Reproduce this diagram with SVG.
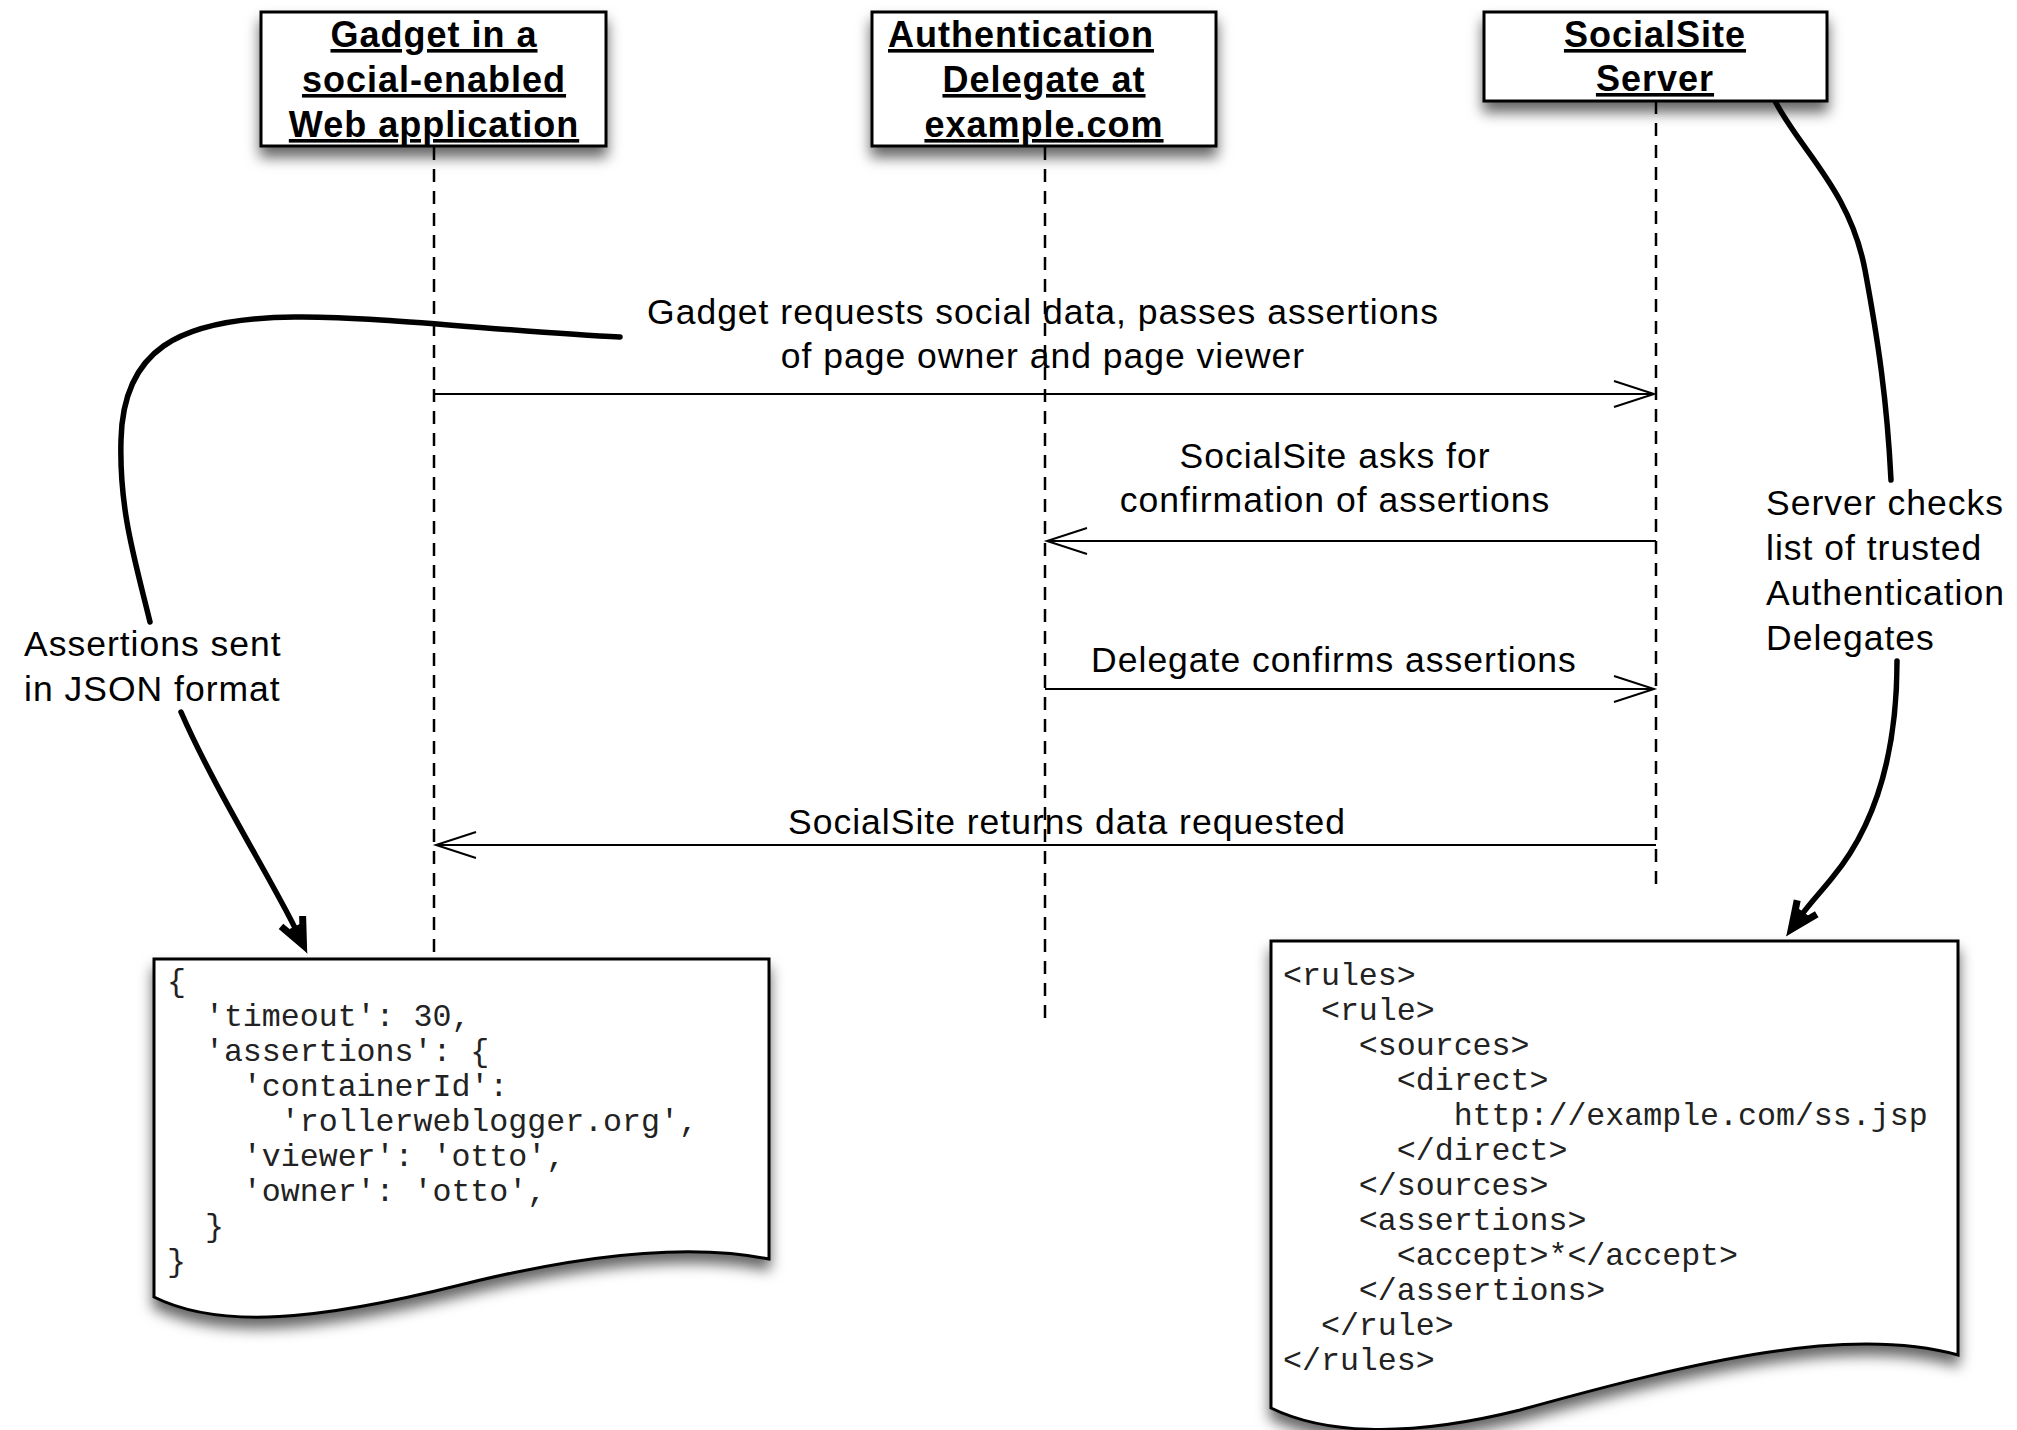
<svg xmlns="http://www.w3.org/2000/svg" width="2017" height="1430" viewBox="0 0 2017 1430">
<style>
.box{fill:#fff;stroke:#000;stroke-width:3;filter:url(#shadow)}
.doc{fill:#fff;stroke:#000;stroke-width:3;filter:url(#shadow)}
.head{font-family:"Liberation Sans",Arial,sans-serif;font-weight:bold;font-size:36px;letter-spacing:1px;text-anchor:middle;text-decoration:underline;fill:#000}
.lbl{font-family:"Liberation Sans",Arial,sans-serif;font-size:35.5px;letter-spacing:1px;fill:#000}
.mid{text-anchor:middle}
.code{font-family:"Liberation Mono","Courier New",monospace;font-size:31.6px;fill:#222}
.life{stroke:#000;stroke-width:2.5;stroke-dasharray:13 9;fill:none}
.msg{stroke:#000;stroke-width:2;fill:none;marker-end:url(#open)}
.curve{stroke:#000;stroke-width:5.5;fill:none;stroke-linecap:round}
</style>
<defs>
<filter id="shadow" x="-10%" y="-10%" width="120%" height="140%">
<feDropShadow dx="0" dy="10" stdDeviation="7" flood-color="#000" flood-opacity="0.6"/>
</filter>
<marker id="open" markerUnits="userSpaceOnUse" markerWidth="60" markerHeight="40" viewBox="-45 -20 50 40" refX="0" refY="0" orient="auto">
<polyline points="-40,-13 0,0 -40,13" fill="none" stroke="#000" stroke-width="2"/>
</marker>
<marker id="solid" markerUnits="userSpaceOnUse" markerWidth="70" markerHeight="50" viewBox="-25 -25 60 50" refX="0" refY="0" orient="auto">
<polyline points="-12,-12 15,0 -12,12" fill="none" stroke="#000" stroke-width="7" stroke-linejoin="miter" stroke-miterlimit="10"/>
<path d="M24,0 L-6,-7 L-6,7 Z" fill="#000"/>
</marker>
</defs>
<rect width="2017" height="1430" fill="#fff"/>

<g id="connectors">
<line class="life" x1="434" y1="147" x2="434" y2="952"/>
<line class="life" x1="1045" y1="147" x2="1045" y2="1023"/>
<line class="life" x1="1656" y1="101" x2="1656" y2="888"/>
<line class="msg" x1="434" y1="394" x2="1654" y2="394"/>
<line class="msg" x1="1656" y1="541" x2="1047" y2="541"/>
<line class="msg" x1="1045" y1="689" x2="1654" y2="689"/>
<line class="msg" x1="1656" y1="845" x2="436" y2="845"/>
<path class="curve" d="M620,337 C520,333 380,316 295,317 C175,318 123,352 121,440 C119,510 135,560 150,622"/>
<path class="curve" style="marker-end:url(#solid)" d="M181,712 C215,790 272,880 297,932"/>
<path class="curve" d="M1775,101 C1800,150 1850,190 1865,270 C1878,340 1887,400 1891,480"/>
<path class="curve" style="marker-end:url(#solid)" d="M1897,661 C1897,760 1872,830 1832,878 C1820,893 1810,903 1800,917"/>
</g>

<g id="message-labels">
<text class="lbl mid" x="1043" y="324">Gadget requests social data, passes assertions</text>
<text class="lbl mid" x="1043" y="368">of page owner and page viewer</text>
<text class="lbl mid" x="1335" y="468">SocialSite asks for</text>
<text class="lbl mid" x="1335" y="512">confirmation of assertions</text>
<text class="lbl mid" x="1334" y="672">Delegate confirms assertions</text>
<text class="lbl mid" x="1067" y="834">SocialSite returns data requested</text>
</g>

<g id="node-gadget">
<rect class="box" x="261" y="12" width="345" height="134"/>
<text class="head" x="434" y="47">Gadget in a</text>
<text class="head" x="434" y="92">social-enabled</text>
<text class="head" x="434" y="137">Web application</text>
</g>

<g id="node-delegate">
<rect class="box" x="872" y="12" width="344" height="134"/>
<text class="head" x="1021" y="47">Authentication</text>
<text class="head" x="1044" y="92">Delegate at</text>
<text class="head" x="1044" y="137">example.com</text>
</g>

<g id="node-server">
<rect class="box" x="1484" y="12" width="343" height="89"/>
<text class="head" x="1655" y="47">SocialSite</text>
<text class="head" x="1655" y="91">Server</text>
</g>

<g id="note-json">
<text class="lbl" x="24" y="656">Assertions sent</text>
<text class="lbl" x="24" y="701">in JSON format</text>
</g>

<g id="note-server">
<text class="lbl" x="1766" y="515">Server checks</text>
<text class="lbl" x="1766" y="560">list of trusted</text>
<text class="lbl" x="1766" y="605">Authentication</text>
<text class="lbl" x="1766" y="650">Delegates</text>
</g>

<g id="doc-json">
<path class="doc" d="M154,959 L769,959 L769,1259 C700,1245 600,1250 460,1285 C320,1320 220,1330 154,1297 Z"/>
<text class="code" xml:space="preserve" x="167" y="991">{</text>
<text class="code" xml:space="preserve" x="167" y="1026">  'timeout': 30,</text>
<text class="code" xml:space="preserve" x="167" y="1061">  'assertions': {</text>
<text class="code" xml:space="preserve" x="167" y="1096">    'containerId':</text>
<text class="code" xml:space="preserve" x="167" y="1131">      'rollerweblogger.org',</text>
<text class="code" xml:space="preserve" x="167" y="1166">    'viewer': 'otto',</text>
<text class="code" xml:space="preserve" x="167" y="1201">    'owner': 'otto',</text>
<text class="code" xml:space="preserve" x="167" y="1236">  }</text>
<text class="code" xml:space="preserve" x="167" y="1271">}</text>
</g>

<g id="doc-rules">
<path class="doc" d="M1271,941 L1958,941 L1958,1355 C1850,1325 1700,1360 1520,1410 C1400,1440 1320,1432 1271,1408 Z"/>
<text class="code" xml:space="preserve" x="1283" y="985">&lt;rules&gt;</text>
<text class="code" xml:space="preserve" x="1283" y="1020">  &lt;rule&gt;</text>
<text class="code" xml:space="preserve" x="1283" y="1055">    &lt;sources&gt;</text>
<text class="code" xml:space="preserve" x="1283" y="1090">      &lt;direct&gt;</text>
<text class="code" xml:space="preserve" x="1283" y="1125">         http://example.com/ss.jsp</text>
<text class="code" xml:space="preserve" x="1283" y="1160">      &lt;/direct&gt;</text>
<text class="code" xml:space="preserve" x="1283" y="1195">    &lt;/sources&gt;</text>
<text class="code" xml:space="preserve" x="1283" y="1230">    &lt;assertions&gt;</text>
<text class="code" xml:space="preserve" x="1283" y="1265">      &lt;accept&gt;*&lt;/accept&gt;</text>
<text class="code" xml:space="preserve" x="1283" y="1300">    &lt;/assertions&gt;</text>
<text class="code" xml:space="preserve" x="1283" y="1335">  &lt;/rule&gt;</text>
<text class="code" xml:space="preserve" x="1283" y="1370">&lt;/rules&gt;</text>
</g>
</svg>
